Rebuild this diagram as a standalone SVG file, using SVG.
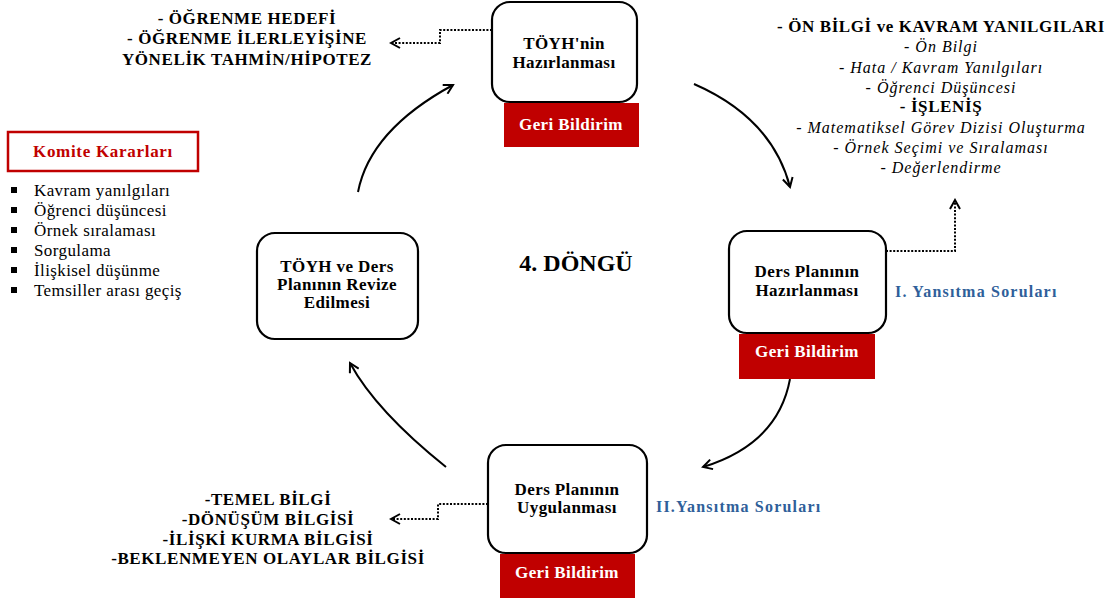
<svg xmlns="http://www.w3.org/2000/svg" width="1116" height="601" viewBox="0 0 1116 601">
  <style>
    text { font-family: "Liberation Serif", "DejaVu Serif", serif; }
    .box { fill: #ffffff; stroke: #000000; stroke-width: 2.2; }
    .fb { fill: #c00000; }
    .fbt { font-weight: bold; font-size: 17px; letter-spacing: 0.4px; fill: #ffffff; text-anchor: middle; }
    .nt { font-weight: bold; font-size: 17px; letter-spacing: 0.4px; fill: #000000; text-anchor: middle; }
    .bt { font-weight: bold; font-size: 17px; letter-spacing: 0.6px; fill: #000000; text-anchor: middle; }
    .it { font-style: italic; font-size: 16px; letter-spacing: 1px; fill: #000000; text-anchor: middle; }
    .li { font-size: 17px; letter-spacing: 0.4px; fill: #000000; }
    .ys { font-weight: bold; font-size: 16px; letter-spacing: 1.2px; fill: #2f5f9a; }
    .cyc { fill: none; stroke: #000000; stroke-width: 2; }
    .dot { fill: none; stroke: #000000; stroke-width: 2; stroke-dasharray: 2 1.6; }
  </style>
  <defs>
    <marker id="head" viewBox="0 0 12 12" refX="10" refY="6" markerWidth="12" markerHeight="12" markerUnits="userSpaceOnUse" orient="auto">
      <path d="M1,1 L10,6 L1,11" fill="none" stroke="#000000" stroke-width="2"/>
    </marker>
  </defs>

  <rect width="1116" height="601" fill="#ffffff"/>

  <!-- cycle and dotted connectors -->
  <g id="connectors">
    <path class="cyc" d="M694,84 Q772,118 790,187" marker-end="url(#head)"/>
    <path class="cyc" d="M790,379 Q778,444 703,467" marker-end="url(#head)"/>
    <path class="cyc" d="M446,467 Q376,411 350,363" marker-end="url(#head)"/>
    <path class="cyc" d="M358,192 Q370,130 453,85" marker-end="url(#head)"/>
    <path class="dot" d="M492,30 H440 V43 H391" marker-end="url(#head)"/>
    <path class="dot" d="M886,251 H955 V200" marker-end="url(#head)"/>
    <path class="dot" d="M488,504 H438 V519 H391" marker-end="url(#head)"/>
  </g>

  <g id="node-toyh">
    <rect class="box" x="492" y="2" width="145" height="100" rx="18"/>
    <text class="nt" x="564" y="49">TÖYH'nin</text>
    <text class="nt" x="564" y="68">Hazırlanması</text>
    <rect class="fb" x="504" y="103" width="135" height="44"/>
    <text class="fbt" x="571" y="130">Geri Bildirim</text>
  </g>

  <g id="node-ders-hazirlama">
    <rect class="box" x="729" y="231" width="157" height="102" rx="18"/>
    <text class="nt" x="807" y="277">Ders Planının</text>
    <text class="nt" x="807" y="296">Hazırlanması</text>
    <rect class="fb" x="739" y="334" width="136" height="45"/>
    <text class="fbt" x="807" y="357">Geri Bildirim</text>
    <text class="ys" x="895" y="297">I.  Yansıtma Soruları</text>
  </g>

  <g id="node-ders-uygulama">
    <rect class="box" x="488" y="445" width="159" height="108" rx="18"/>
    <text class="nt" x="567" y="495">Ders Planının</text>
    <text class="nt" x="567" y="513">Uygulanması</text>
    <rect class="fb" x="500" y="554" width="135" height="44"/>
    <text class="fbt" x="567" y="578">Geri Bildirim</text>
    <text class="ys" x="656" y="512">II.Yansıtma Soruları</text>
  </g>

  <g id="node-revize">
    <rect class="box" x="257" y="233" width="161" height="106" rx="18"/>
    <text class="nt" x="337" y="272">TÖYH  ve Ders</text>
    <text class="nt" x="337" y="290">Planının Revize</text>
    <text class="nt" x="337" y="308">Edilmesi</text>
  </g>

  <g id="title">
    <text x="576" y="271" font-weight="bold" font-size="24" text-anchor="middle">4. DÖNGÜ</text>
  </g>

  <g id="note-hedef">
    <text class="bt" x="247" y="24">- ÖĞRENME HEDEFİ</text>
    <text class="bt" x="247" y="44">- ÖĞRENME İLERLEYİŞİNE</text>
    <text class="bt" x="247" y="65">YÖNELİK TAHMİN/HİPOTEZ</text>
  </g>

  <g id="note-onbilgi">
    <text class="bt" x="941" y="32">- ÖN BİLGİ ve KAVRAM YANILGILARI</text>
    <text class="it" x="941" y="52">- Ön Bilgi</text>
    <text class="it" x="941" y="73">- Hata / Kavram Yanılgıları</text>
    <text class="it" x="941" y="93">- Öğrenci Düşüncesi</text>
    <text class="bt" x="941" y="112">- İŞLENİŞ</text>
    <text class="it" x="941" y="133">- Matematiksel Görev Dizisi Oluşturma</text>
    <text class="it" x="941" y="153">- Örnek Seçimi ve Sıralaması</text>
    <text class="it" x="941" y="173">- Değerlendirme</text>
  </g>

  <g id="note-bilgi">
    <text class="bt" x="268" y="505">-TEMEL BİLGİ</text>
    <text class="bt" x="268" y="525">-DÖNÜŞÜM BİLGİSİ</text>
    <text class="bt" x="268" y="545">-İLİŞKİ KURMA BİLGİSİ</text>
    <text class="bt" x="268" y="564">-BEKLENMEYEN OLAYLAR BİLGİSİ</text>
  </g>

  <g id="komite">
    <rect x="8" y="132" width="190" height="39" fill="#ffffff" stroke="#c00000" stroke-width="2.5"/>
    <text x="103" y="157" font-weight="bold" font-size="17" letter-spacing="0.7" fill="#c00000" text-anchor="middle">Komite Kararları</text>
    <g fill="#000000">
      <rect x="11" y="187" width="6" height="6"/>
      <rect x="11" y="207" width="6" height="6"/>
      <rect x="11" y="227" width="6" height="6"/>
      <rect x="11" y="247" width="6" height="6"/>
      <rect x="11" y="267" width="6" height="6"/>
      <rect x="11" y="287" width="6" height="6"/>
    </g>
    <text class="li" x="34" y="196">Kavram yanılgıları</text>
    <text class="li" x="34" y="216">Öğrenci düşüncesi</text>
    <text class="li" x="34" y="236">Örnek sıralaması</text>
    <text class="li" x="34" y="256">Sorgulama</text>
    <text class="li" x="34" y="276">İlişkisel düşünme</text>
    <text class="li" x="34" y="296">Temsiller arası geçiş</text>
  </g>
</svg>
